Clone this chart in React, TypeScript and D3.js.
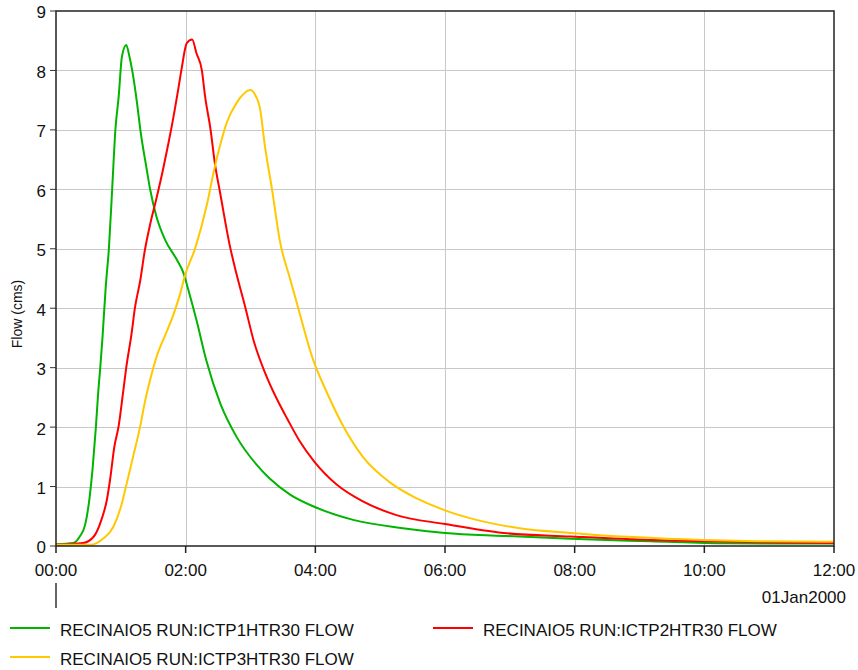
import React from 'react';
import * as d3 from 'd3';

// minutes after 00:00, flow in cms
const p1Minutes = [0, 16, 22, 27, 31, 34, 37, 39, 41, 43, 46, 49, 52, 55, 58, 61, 65, 68, 71, 75, 78, 84, 87, 93, 101, 112, 118, 122, 130, 139, 152, 167, 186, 198, 217, 239, 275, 321, 360, 414, 476, 550, 621, 720];
const p1Flow = [0.03, 0.05, 0.16, 0.36, 0.8, 1.33, 2.02, 2.57, 3.01, 3.5, 4.35, 5.02, 6.01, 7.01, 7.56, 8.23, 8.43, 8.23, 7.95, 7.45, 7.01, 6.33, 6.01, 5.54, 5.15, 4.81, 4.59, 4.34, 3.8, 3.13, 2.4, 1.84, 1.36, 1.13, 0.86, 0.66, 0.44, 0.3, 0.22, 0.17, 0.12, 0.08, 0.045, 0.04];

const p2Minutes = [0, 25, 35, 42, 47, 50, 54, 58, 62, 65, 70, 73, 78, 82, 87, 93, 99, 104, 107, 113, 116, 121, 126, 130, 135, 138, 143, 147, 152, 161, 167, 175, 183, 192, 198, 207, 214, 225, 239, 260, 284, 315, 360, 414, 476, 550, 600, 673, 720];
const p2Flow = [0.02, 0.05, 0.16, 0.44, 0.77, 1.11, 1.67, 2.02, 2.57, 3.0, 3.58, 4.0, 4.47, 4.95, 5.4, 5.85, 6.33, 6.77, 7.05, 7.67, 8.0, 8.46, 8.52, 8.29, 8.0, 7.56, 7.01, 6.44, 5.93, 5.04, 4.58, 4.03, 3.45, 2.98, 2.72, 2.38, 2.14, 1.78, 1.42, 1.03, 0.75, 0.52, 0.37, 0.22, 0.16, 0.1, 0.08, 0.06, 0.05];

const p3Minutes = [0, 32, 44, 53, 61, 65, 72, 78, 82, 87, 93, 103, 109, 115, 119, 129, 140, 146, 152, 158, 167, 180, 184, 189, 193, 200, 207, 217, 223, 238, 251, 266, 284, 309, 334, 360, 389, 429, 476, 534, 599, 649, 720];
const p3Flow = [0.02, 0.02, 0.13, 0.32, 0.72, 1.02, 1.55, 2.02, 2.4, 2.79, 3.18, 3.63, 3.91, 4.25, 4.53, 5.02, 5.77, 6.3, 6.75, 7.12, 7.45, 7.67, 7.6, 7.34, 6.77, 5.99, 5.15, 4.47, 4.08, 3.13, 2.57, 2.01, 1.5, 1.07, 0.8, 0.6, 0.44, 0.3, 0.22, 0.15, 0.1, 0.08, 0.07];

const xTickMinutes = [0, 120, 240, 360, 480, 600, 720];
const xTickLabels = ['00:00', '02:00', '04:00', '06:00', '08:00', '10:00', '12:00'];
const yTicks = [0, 1, 2, 3, 4, 5, 6, 7, 8, 9];

const seriesNames = [
  'RECINAIO5 RUN:ICTP1HTR30 FLOW',
  'RECINAIO5 RUN:ICTP2HTR30 FLOW',
  'RECINAIO5 RUN:ICTP3HTR30 FLOW',
];
const seriesColors = ['#00b400', '#ff0000', '#ffc800'];

const W = 858;
const H = 670;
const plot = { left: 56, right: 834, top: 11, bottom: 546 };
const font = '"Liberation Sans", Arial, sans-serif';

const App: React.FC = () => {
  const x = d3.scaleLinear().domain([0, 720]).range([plot.left, plot.right]);
  const y = d3.scaleLinear().domain([0, 9]).range([plot.bottom, plot.top]);

  const line = d3.line<[number, number]>()
    .x(d => x(d[0]))
    .y(d => y(d[1]))
    .curve(d3.curveMonotoneX);

  const series = [
    d3.zip(p1Minutes, p1Flow) as [number, number][],
    d3.zip(p2Minutes, p2Flow) as [number, number][],
    d3.zip(p3Minutes, p3Flow) as [number, number][],
  ];

  // legend slots: green & yellow on the left column, red on the right
  const legendPos = [
    { x: 10, y: 628 },
    { x: 433, y: 628 },
    { x: 10, y: 657 },
  ];

  return (
    <svg width={W} height={H} style={{ position: 'absolute', left: 0, top: 0, background: '#fff' }}
      fontFamily={font}>
      <rect x={0} y={0} width={W} height={H} fill="#fff" />

      {/* grid */}
      <g stroke="#c8c8c8" strokeWidth={1}>
        {yTicks.slice(1, -1).map(v => (
          <line key={'gy' + v} x1={plot.left} x2={plot.right} y1={Math.round(y(v)) + 0.5} y2={Math.round(y(v)) + 0.5} />
        ))}
        {xTickMinutes.slice(1, -1).map(m => (
          <line key={'gx' + m} x1={Math.round(x(m)) + 0.5} x2={Math.round(x(m)) + 0.5} y1={plot.top} y2={plot.bottom} />
        ))}
      </g>

      {/* series */}
      {series.map((s, i) => (
        <path key={i} d={line(s) ?? ''} fill="none" stroke={seriesColors[i]} strokeWidth={2} strokeLinejoin="round" />
      ))}

      {/* frame */}
      <rect x={plot.left} y={plot.top} width={plot.right - plot.left} height={plot.bottom - plot.top}
        fill="none" stroke="#222" strokeWidth={1.5} />

      {/* y axis ticks */}
      {yTicks.map(v => (
        <g key={'yt' + v}>
          <line x1={plot.left - 6} x2={plot.left} y1={y(v)} y2={y(v)} stroke="#333" strokeWidth={1} />
          <text x={plot.left - 10} y={y(v) + 3} textAnchor="end" dominantBaseline="middle" fontSize={17} fill="#111">{v}</text>
        </g>
      ))}

      {/* x axis ticks */}
      {xTickMinutes.map((m, i) => (
        <g key={'xt' + m}>
          <line x1={x(m)} x2={x(m)} y1={plot.bottom} y2={plot.bottom + 7} stroke="#222" strokeWidth={1.5} />
          <text x={x(m)} y={576} textAnchor="middle" fontSize={17} fill="#111">{xTickLabels[i]}</text>
        </g>
      ))}
      <line x1={plot.left} x2={plot.left} y1={583} y2={608} stroke="#333" strokeWidth={1.5} />
      <text x={846} y={603} textAnchor="end" fontSize={17} fill="#111">01Jan2000</text>

      {/* y label */}
      <text transform="translate(22,314) rotate(-90)" textAnchor="middle" fontSize={14} fill="#111">Flow (cms)</text>

      {/* legend */}
      {seriesNames.map((name, i) => (
        <g key={'lg' + i} transform={`translate(${legendPos[i].x},${legendPos[i].y})`}>
          <line x1={0} x2={40} y1={0} y2={0} stroke={seriesColors[i]} strokeWidth={2} />
          <text x={50} y={7.5} fontSize={17} fill="#111">{name}</text>
        </g>
      ))}
    </svg>
  );
};

export default App;
